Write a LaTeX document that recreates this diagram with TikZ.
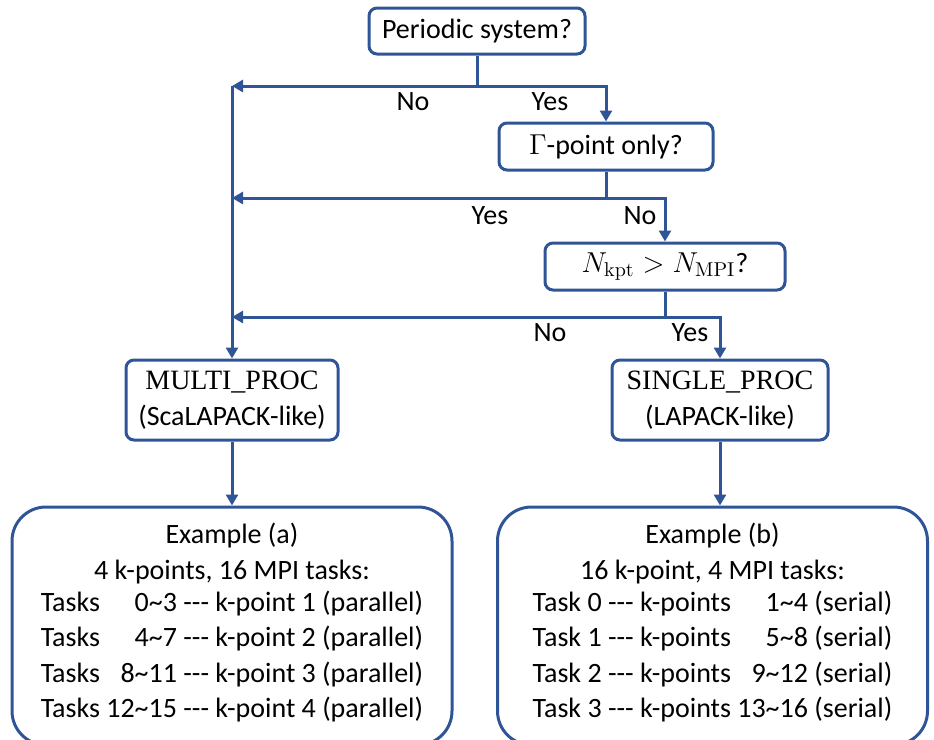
\documentclass[tikz,border=0pt]{standalone}
\usepackage[no-math]{fontspec}
\setmainfont{Carlito}
\newfontfamily\timesfont{Liberation Serif}
\usetikzlibrary{arrows.meta}
\definecolor{flowblue}{RGB}{47,85,151}
\newcommand{\tdash}{\mbox{-}\mbox{-}\mbox{-}}
\newcommand{\tl}{\textasciitilde}

\begin{document}
\begin{tikzpicture}[x=0.5pt,y=-0.5pt,font=\fontsize{14}{17.8}\selectfont]
        \tikzstyle{question}=[rectangle,rounded corners=4pt,draw=flowblue,line width=1.5pt,fill=white,inner sep=2pt]
        \tikzstyle{proc}=[question,align=center]
        \tikzstyle{example}=[rectangle,rounded corners=17pt,draw=flowblue,line width=1.5pt,align=center]
        \tikzstyle{flow}=[draw=flowblue,line width=1.5pt]
        \tikzstyle{arrow}=[flow,-{Triangle[length=5.5pt,width=6pt]}]
        \tikzstyle{answer}=[inner sep=1pt]

        \useasboundingbox (0,0) rectangle (934,740);

        % decisions
        \node [question, minimum width=108pt, minimum height=23pt] (periodic) at (477,31) {Periodic system?};
        \node [question, minimum width=107pt, minimum height=23.5pt] (gamma) at (606,146.5) {$\Gamma$-point only?};
        \node [question, minimum width=120pt, minimum height=23.5pt] (kpt) at (665,266.5) {$N_{\mathrm{kpt}} > N_{\mathrm{MPI}}$?};

        % solvers
        \node [proc, minimum width=106pt, minimum height=40pt] (multi) at (232,400) {{\timesfont MULTI\_PROC}\\(ScaLAPACK-like)};
        \node [proc, minimum width=108pt, minimum height=40pt] (single) at (720,400) {{\timesfont SINGLE\_PROC}\\(LAPACK-like)};

        % examples
        \node [example, minimum width=220pt, minimum height=119pt] (exa) at (232,626) {Example (a)\\4 k-points, 16 MPI tasks:\\
          \begin{tabular}{@{}l@{\ }r@{\ }l@{}}
            Tasks & 0\tl3 & \tdash{} k-point 1 (parallel)\\
            Tasks & 4\tl7 & \tdash{} k-point 2 (parallel)\\
            Tasks & 8\tl11 & \tdash{} k-point 3 (parallel)\\
            Tasks & 12\tl15 & \tdash{} k-point 4 (parallel)
          \end{tabular}};
        \node [example, minimum width=215pt, minimum height=119pt] (exb) at (712.5,626) {Example (b)\\16 k-point, 4 MPI tasks:\\
          \begin{tabular}{@{}l@{\ }r@{\ }l@{}}
            Task 0 \tdash{} k-points & 1\tl4 & (serial)\\
            Task 1 \tdash{} k-points & 5\tl8 & (serial)\\
            Task 2 \tdash{} k-points & 9\tl12 & (serial)\\
            Task 3 \tdash{} k-points & 13\tl16 & (serial)
          \end{tabular}};

        \coordinate (split1) at (477,86);
        \coordinate (trunk1) at (232,86);
        \coordinate (split2) at (606,198);
        \coordinate (trunk2) at (232,198);
        \coordinate (split3) at (665,317);
        \coordinate (trunk3) at (232,317);

        \draw[flow] (periodic.south) -- (split1);
        \draw[arrow] (split1) -- (trunk1);
        \draw[arrow] (split1) -| (gamma.north);
        \draw[arrow] (trunk1) -- (multi.north);

        \draw[flow] (gamma.south) -- (split2);
        \draw[arrow] (split2) -- (trunk2);
        \draw[arrow] (split2) -| (kpt.north);

        \draw[flow] (kpt.south) -- (split3);
        \draw[arrow] (split3) -- (trunk3);
        \draw[arrow] (split3) -| (single.north);

        \draw[arrow] (multi.south) -- (exa.north);
        \draw[arrow] (single.south) -- (single.south |- exb.north);

        % branch labels
        \node [answer] (no1) at (413,102) {No};
        \node [answer] (yes1) at (550,102) {Yes};
        \node [answer] (yes2) at (490,216) {Yes};
        \node [answer] (no2) at (640,216) {No};
        \node [answer] (no3) at (550,333) {No};
        \node [answer] (yes3) at (690,333) {Yes};
\end{tikzpicture}
\end{document}
